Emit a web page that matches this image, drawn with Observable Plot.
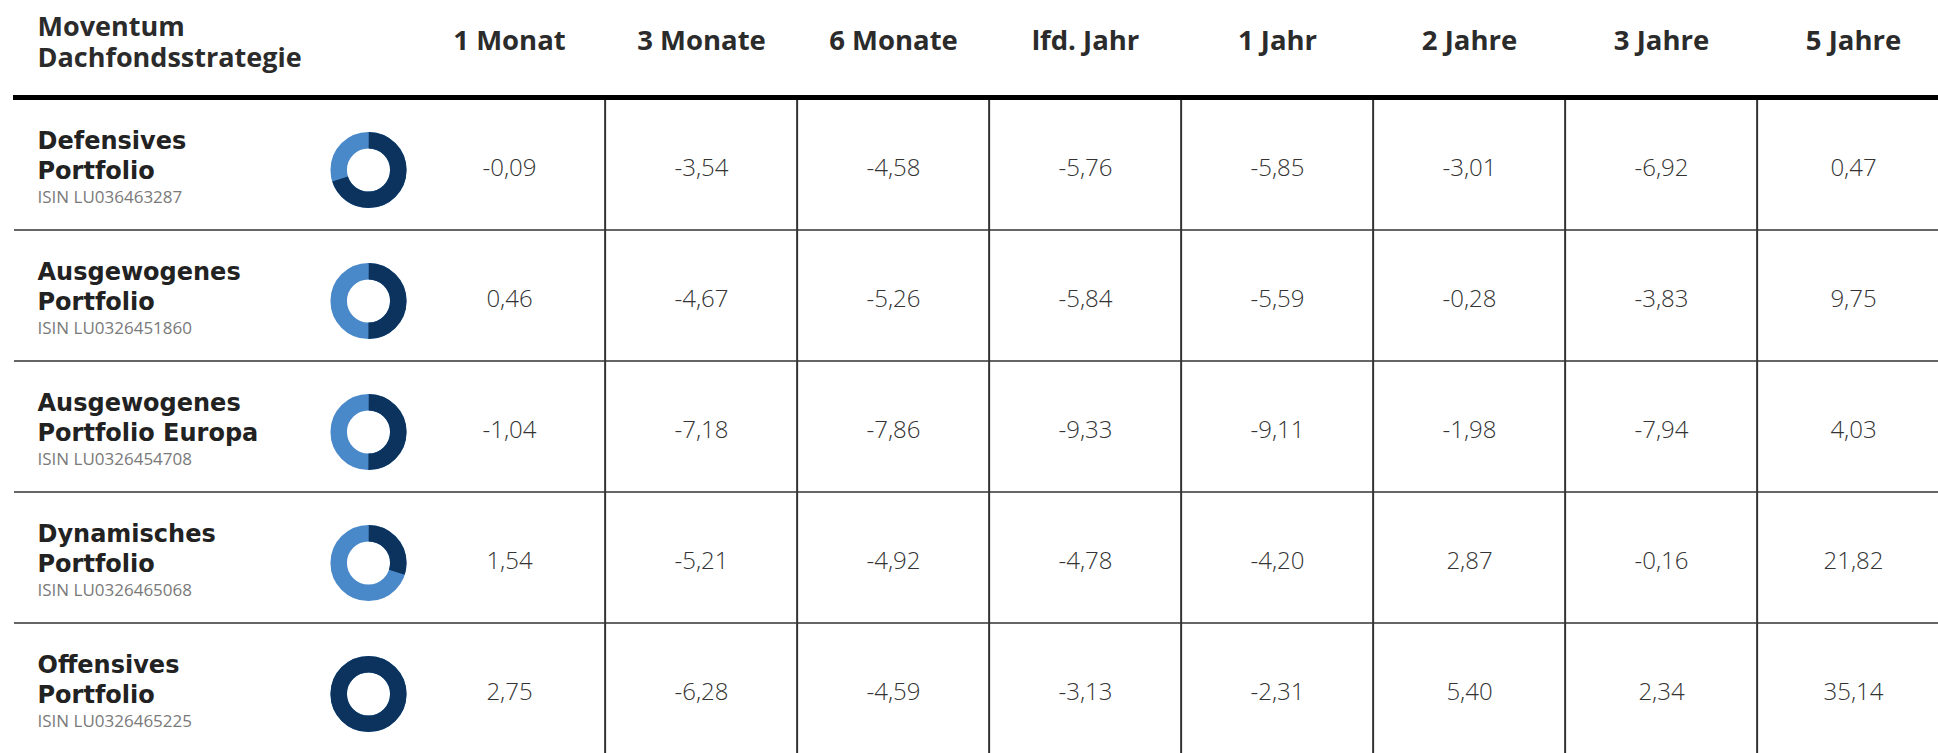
<!DOCTYPE html>
<html><head><meta charset="utf-8">
<script src="https://cdn.jsdelivr.net/npm/d3@7"></script>
<script src="https://cdn.jsdelivr.net/npm/@observablehq/plot@0.6"></script>
<style>
html,body{margin:0;padding:0;background:#fff;}
</style></head><body><div id="chart"></div>
<script>
const headerTitle = "Moventum\nDachfondsstrategie";
const periods = ["1 Monat","3 Monate","6 Monate","lfd. Jahr","1 Jahr","2 Jahre","3 Jahre","5 Jahre"];
const portfolios = ["Defensives\nPortfolio","Ausgewogenes\nPortfolio","Ausgewogenes\nPortfolio Europa","Dynamisches\nPortfolio","Offensives\nPortfolio"];
const isins = ["ISIN LU036463287","ISIN LU0326451860","ISIN LU0326454708","ISIN LU0326465068","ISIN LU0326465225"];
const darkShare = [0.70, 0.50, 0.50, 0.30, 1.00];
const returnsDefensiv   = [-0.09,-3.54,-4.58,-5.76,-5.85,-3.01,-6.92, 0.47];
const returnsAusgewogen = [ 0.46,-4.67,-5.26,-5.84,-5.59,-0.28,-3.83, 9.75];
const returnsEuropa     = [-1.04,-7.18,-7.86,-9.33,-9.11,-1.98,-7.94, 4.03];
const returnsDynamisch  = [ 1.54,-5.21,-4.92,-4.78,-4.20, 2.87,-0.16,21.82];
const returnsOffensiv   = [ 2.75,-6.28,-4.59,-3.13,-2.31, 5.40, 2.34,35.14];
const returns = [returnsDefensiv, returnsAusgewogen, returnsEuropa, returnsDynamisch, returnsOffensiv];

const DARK = "#0b335e", LIGHT = "#4a89c9";
const xRange = [410, 1952], yRange = [97, 756];
const bw = (xRange[1]-xRange[0]) / periods.length;
const bh = (yRange[1]-yRange[0]) / portfolios.length;
const R = 29.8, C = 2*Math.PI*R, RING = 16.5;

const rows = portfolios.map((p,i)=>({name:p, isin:isins[i], share:darkShare[i]}));
const cells = rows.flatMap((r,i)=>periods.map((p,j)=>({name:r.name, period:p, value:returns[i][j]})));
const fmt = v => v.toFixed(2).replace(".", ",");

const chart = Plot.plot({
  width: 1938, height: 753,
  marginLeft: 0, marginRight: 0, marginBottom: 0, marginTop: 97,
  x: {type:"band", domain: periods, range: xRange, padding: 0, axis: null},
  y: {type:"band", domain: portfolios, range: yRange, padding: 0, axis: null},
  style: {background:"#fff", overflow:"visible"},
  marks: [
    Plot.ruleY(portfolios.slice(1), {y: d=>d, dy: -bh/2, dx: 14, stroke:"#666", strokeWidth: 2}),
    Plot.ruleX(periods.slice(1), {x: d=>d, dx: -bw/2, stroke:"#333", strokeWidth: 2}),
    Plot.ruleY(portfolios.slice(0,1), {y: d=>d, dy: -bh/2 - 1.5, dx: 13, stroke:"#000", strokeWidth: 5}),
    Plot.text([headerTitle], {frameAnchor:"top-left", dx: 37, dy: -56, text: d=>d, textAnchor:"start", lineAnchor:"middle",
      lineHeight: 1.16, fontSize: 27, fontWeight: "bold", fontFamily: "Open Sans", fill: "#2b2b2b"}),
    Plot.text(periods, {x: d=>d, frameAnchor:"top", dy: -56, text: d=>d, lineAnchor:"middle",
      fontSize: 27.5, fontWeight: "bold", fontFamily: "Open Sans", fill: "#2b2b2b"}),
    Plot.text(rows, {y:"name", text:"name", frameAnchor:"left", dx: 37, dy: -37, lineAnchor:"top", textAnchor:"start",
      fontFamily:"DejaVu Sans", fontWeight:"bold", fontSize: 24, lineHeight: 1.25, fill:"#222"}),
    Plot.text(rows, {y:"name", text:"isin", frameAnchor:"left", dx: 37, dy: 33, lineAnchor:"middle", textAnchor:"start",
      fontFamily:"Open Sans", fontSize: 17, fill:"#7a7a7a"}),
    Plot.dot(rows, {y:"name", frameAnchor:"left", dx: 368, dy: 5, r: R, stroke: LIGHT, strokeWidth: RING, fill:"none"}),
    ...rows.map(r => Plot.dot([r], {y:"name", frameAnchor:"left", dx: 368, dy: 5, r: R, stroke: DARK, strokeWidth: RING, fill:"none",
      strokeDasharray: `${r.share*C} ${C - r.share*C}`, strokeDashoffset: C/4})),
    Plot.text(cells, {x:"period", y:"name", text: d=>fmt(d.value), dy: 3, lineAnchor:"middle",
      fontSize: 24, fontWeight: 300, fontFamily:"Open Sans", fill:"#333"})
  ]
});
document.getElementById("chart").appendChild(chart);
</script>
</body></html>
